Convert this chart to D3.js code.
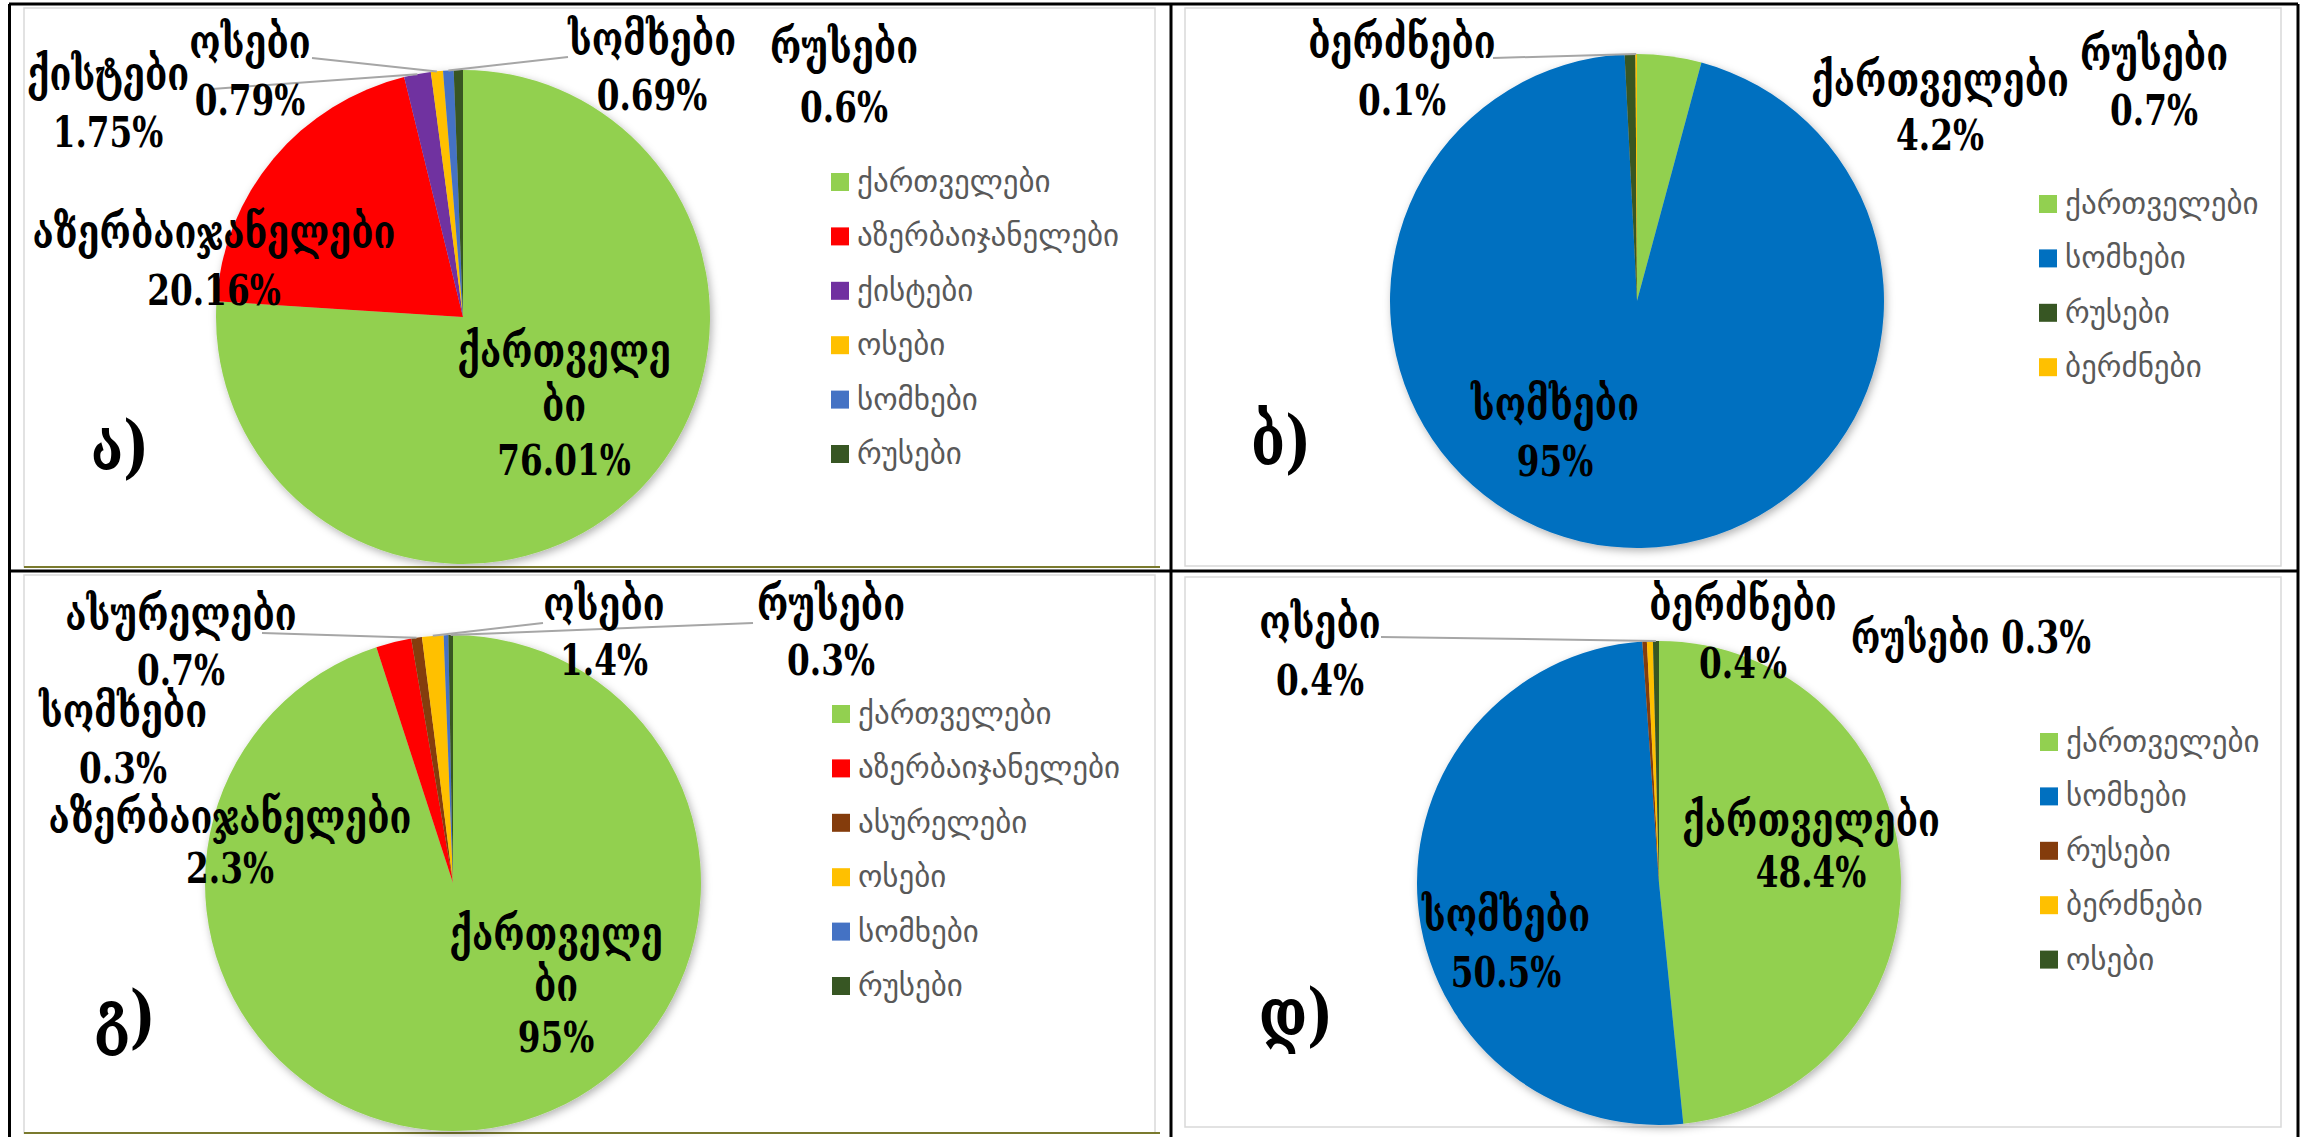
<!DOCTYPE html>
<html>
<head>
<meta charset="utf-8">
<script src="https://cdn.jsdelivr.net/npm/d3@7"></script>
<style>
  body { margin: 0; background: #fff; }
  svg { display: block; }
</style>
</head>
<body>
<div id="chart"></div>
<script>
// values of the four pies (percent)
var namesA = ["ქართველები", "აზერბაიჯანელები", "ქისტები", "ოსები", "სომხები", "რუსები"]
var valuesA = [76.01, 20.16, 1.75, 0.79, 0.69, 0.6]

var namesB = ["ქართველები", "სომხები", "რუსები", "ბერძნები"]
var valuesB = [4.2, 95, 0.7, 0.1]

var namesC = ["ქართველები", "აზერბაიჯანელები", "ასურელები", "ოსები", "სომხები", "რუსები"]
var valuesC = [95, 2.3, 0.7, 1.4, 0.3, 0.3]

var namesD = ["ქართველები", "სომხები", "რუსები", "ბერძნები", "ოსები"]
var valuesD = [48.4, 50.5, 0.3, 0.4, 0.4]

var panelLetters = ["ა)", "ბ)", "გ)", "დ)"]

// set the dimensions
var width = 2301
    height = 1137

var green = "#92D050", red = "#FF0000", purple = "#7030A0", yellow = "#FFC000",
    blue1 = "#4472C4", blue2 = "#0070C0", dkgreen = "#375623", brown = "#843C0C"

// layout of each panel: pie position, label spots, legend spot
var panels = [
    { names: namesA, values: valuesA, letter: panelLetters[0],
      colors: [green, red, purple, yellow, blue1, dkgreen],
      box: [24, 8, 1155, 567], olive: true,
      cx: 463, cy: 317, r: 247,
      letterXY: [120, 470], legend: [831, 182],
      labels: [
        {x: 564, y: 367, gap: 54, wrap: 8},
        {x: 214, y: 248},
        {x: 108, y: 90, leader: [212, 89]},
        {x: 250, y: 58, leader: [312, 58]},
        {x: 652, y: 55, gap: 55, leader: [568, 57]},
        {x: 844, y: 63, gap: 59}
      ]},
    { names: namesB, values: valuesB, letter: panelLetters[1],
      colors: [green, blue2, dkgreen, yellow],
      box: [1185, 8, 2281, 566], olive: false,
      cx: 1637, cy: 301, r: 247,
      letterXY: [1281, 465], legend: [2039, 204],
      labels: [
        {x: 1940, y: 96, gap: 54},
        {x: 1555, y: 420, gap: 56},
        {x: 2154, y: 70, gap: 55},
        {x: 1402, y: 58, leader: [1493, 58]}
      ]},
    { names: namesC, values: valuesC, letter: panelLetters[2],
      colors: [green, red, brown, yellow, blue1, dkgreen],
      box: [24, 575, 1155, 1133], olive: true,
      cx: 453, cy: 883, r: 248,
      letterXY: [125, 1040], legend: [832, 714],
      labels: [
        {x: 556, y: 950, gap: 51, wrap: 8},
        {x: 230, y: 833, gap: 50},
        {x: 181, y: 630, gap: 55, leader: [262, 633]},
        {x: 604, y: 620, gap: 55, leader: [543, 623]},
        {x: 123, y: 727, gap: 56},
        {x: 831, y: 620, gap: 55, leader: [753, 623]}
      ]},
    { names: namesD, values: valuesD, letter: panelLetters[3],
      colors: [green, blue2, brown, yellow, dkgreen],
      box: [1185, 577, 2281, 1127], olive: false,
      cx: 1659, cy: 883, r: 242,
      letterXY: [1296, 1038], legend: [2040, 742],
      labels: [
        {x: 1811, y: 836, gap: 51},
        {x: 1506, y: 931, gap: 56},
        {x: 1971, y: 653, oneLine: true},
        {x: 1743, y: 620, gap: 58},
        {x: 1320, y: 638, gap: 57, leader: [1381, 637]}
      ]}
]

var svg = d3.select("#chart")
    .append("svg")
        .attr("width", width)
        .attr("height", height)

// soft shadow under the pies
var defs = svg.append("defs")
defs.append("filter")
    .attr("id", "shadow")
    .attr("x", "-10%").attr("y", "-10%")
    .attr("width", "120%").attr("height", "120%")
  .append("feDropShadow")
    .attr("dx", 2).attr("dy", 3)
    .attr("stdDeviation", 4)
    .attr("flood-color", "#000")
    .attr("flood-opacity", 0.3)

var labelFont = "'DejaVu Serif', serif"
var legendFont = "'DejaVu Sans', sans-serif"

panels.forEach(function(p) {
    var b = p.box
    // chart area frame
    svg.append("rect")
        .attr("x", b[0]).attr("y", b[1])
        .attr("width", b[2] - b[0]).attr("height", b[3] - b[1])
        .attr("fill", "#fff")
        .attr("stroke", "#d9d9d9")
        .attr("stroke-width", 1.5)
    if (p.olive) {
        svg.append("line")
            .attr("x1", b[0]).attr("x2", b[2] + 5)
            .attr("y1", b[3]).attr("y2", b[3])
            .attr("stroke", "#7a7a2e")
            .attr("stroke-width", 2)
    }

    var data = p.names.map(function(n, i) { return {name: n, value: p.values[i], color: p.colors[i]} })

    // keep the given order, start at 12 o'clock, go clockwise
    var pie = d3.pie()
        .value(function(d) { return d.value })
        .sort(null)
    var data_ready = pie(data)

    var arc = d3.arc().innerRadius(0).outerRadius(p.r)
    var rim = d3.arc().innerRadius(p.r).outerRadius(p.r)

    var g = svg.append("g")
        .attr("transform", "translate(" + p.cx + "," + p.cy + ")")

    g.append("g")
        .attr("filter", "url(#shadow)")
      .selectAll("path")
      .data(data_ready)
      .enter()
      .append("path")
        .attr("d", arc)
        .attr("fill", function(d) { return d.data.color })

    // leader lines
    data_ready.forEach(function(d, i) {
        var lab = p.labels[i]
        if (!lab.leader) return
        var c = rim.centroid(d)
        svg.append("line")
            .attr("x1", p.cx + c[0]).attr("y1", p.cy + c[1])
            .attr("x2", lab.leader[0]).attr("y2", lab.leader[1])
            .attr("stroke", "#a6a6a6")
            .attr("stroke-width", 2)
    })

    // data labels
    data_ready.forEach(function(d, i) {
        var lab = p.labels[i]
        var name = d.data.name
        var pct = d.data.value + "%"
        var lines
        if (lab.oneLine) lines = [name + " " + pct]
        else if (lab.wrap) lines = [name.slice(0, lab.wrap), name.slice(lab.wrap), pct]
        else lines = [name, pct]
        var gap = lab.gap || 57

        var lg = svg.append("g")
            .attr("transform", "translate(" + lab.x + "," + lab.y + ") scale(0.76,1)")
        lg.selectAll("text")
            .data(lines)
            .enter()
            .append("text")
                .attr("x", 0)
                .attr("y", function(t, j) { return j * gap })
                .attr("text-anchor", "middle")
                .style("font-family", labelFont)
                .style("font-weight", "bold")
                .style("font-size", function(t, j) {
                    if (lab.oneLine) return "44px"
                    return j == lines.length - 1 ? "43px" : "47px"
                })
                .attr("fill", "#000")
                .text(function(t) { return t })
    })

    // panel letter
    svg.append("text")
        .attr("transform", "translate(" + p.letterXY[0] + "," + p.letterXY[1] + ") scale(0.78,1)")
        .attr("text-anchor", "middle")
        .style("font-family", labelFont)
        .style("font-weight", "bold")
        .style("font-size", "70px")
        .text(p.letter)

    // legend
    var lgd = svg.append("g")
        .attr("transform", "translate(" + p.legend[0] + "," + p.legend[1] + ")")
    var rows = lgd.selectAll("g")
        .data(data)
        .enter()
        .append("g")
            .attr("transform", function(d, i) { return "translate(0," + (i * 54.4) + ")" })
    rows.append("rect")
        .attr("x", 0).attr("y", -9)
        .attr("width", 18).attr("height", 18)
        .attr("fill", function(d) { return d.color })
    rows.append("text")
        .attr("x", 26)
        .attr("y", 0)
        .attr("dy", "0.32em")
        .style("font-family", legendFont)
        .style("font-size", "31px")
        .attr("fill", "#595959")
        .text(function(d) { return d.name })
})

// table borders
var borders = [
    [9, 4, 2298, 4], [9, 571, 2298, 571],
    [9.5, 4, 9.5, 1137], [1171, 4, 1171, 1137], [2298, 4, 2298, 1137]
]
svg.selectAll(".border")
    .data(borders)
    .enter()
    .append("line")
        .attr("class", "border")
        .attr("x1", function(d) { return d[0] }).attr("y1", function(d) { return d[1] })
        .attr("x2", function(d) { return d[2] }).attr("y2", function(d) { return d[3] })
        .attr("stroke", "#000")
        .attr("stroke-width", 3)
</script>
</body>
</html>
